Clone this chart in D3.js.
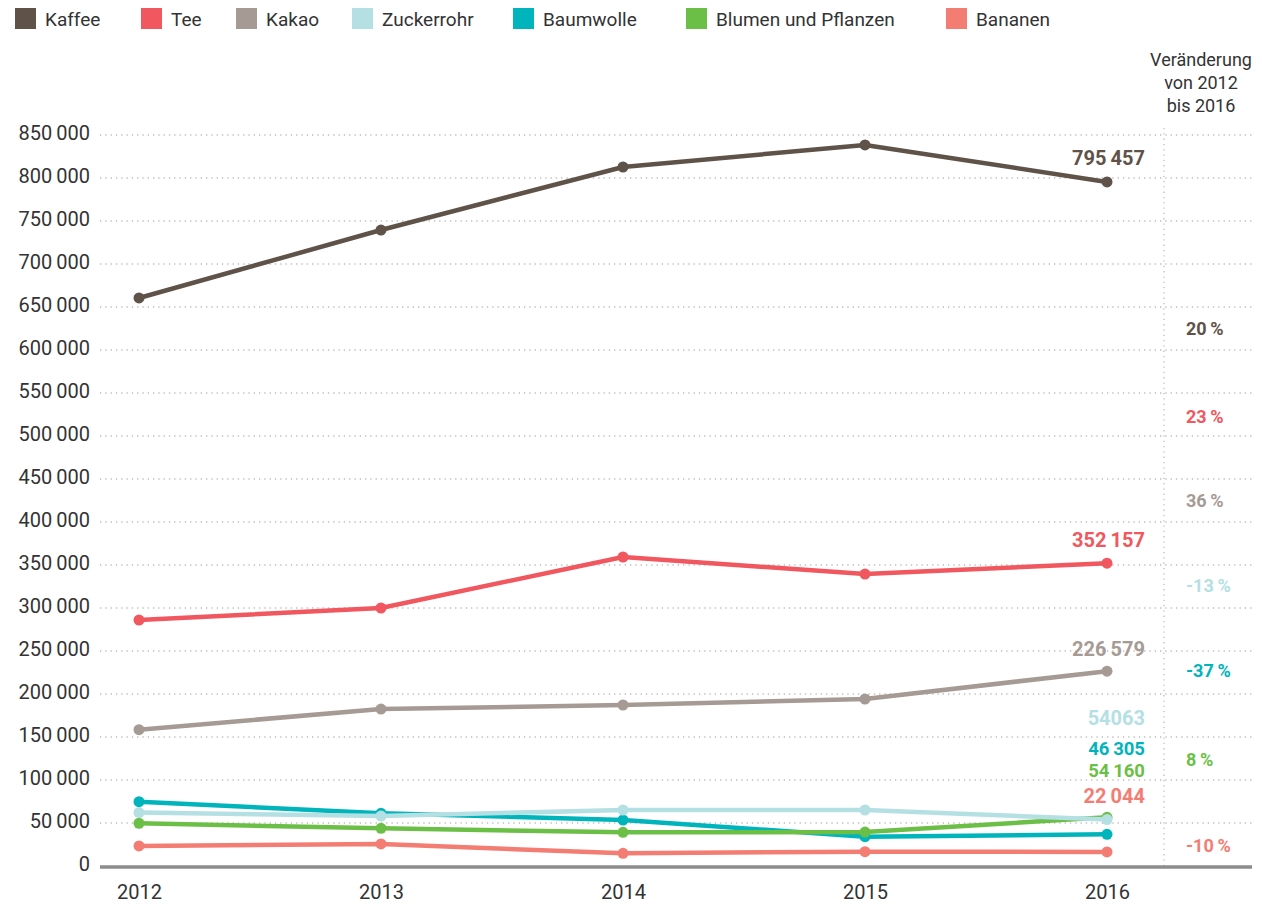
<!DOCTYPE html>
<html><head><meta charset="utf-8">
<script src="https://cdn.jsdelivr.net/npm/d3@7"></script>
<style>body{margin:0;background:#fff;font-family:Roboto,"Open Sans",sans-serif;}</style>
</head><body>
<svg id="c" width="1262" height="911"></svg>
<script>
const years = [2012, 2013, 2014, 2015, 2016];
const seriesNames = ["Kaffee","Tee","Kakao","Zuckerrohr","Baumwolle","Blumen und Pflanzen","Bananen"];
const colors = ["#5f5249","#f0575e","#a69a94","#b4e0e3","#00b4bc","#6cbf46","#f47d73"];
const kaffee = [660500, 739500, 812800, 838400, 795457];
const tee = [286000, 300000, 359300, 339500, 352157];
const kakao = [158500, 182500, 187200, 194200, 226579];
const zuckerrohr = [62100, 58100, 65100, 65100, 54063];
const baumwolle = [74800, 61300, 53500, 34100, 36900];
const blumen = [49700, 43800, 39200, 39500, 56600];
const bananen = [23300, 25600, 14700, 16700, 16300];
const endLabels = ["795 457","352 157","226 579","54063","46 305","54 160","22 044"];
const changeLabels = ["20 %","23 %","36 %","-13 %","-37 %","8 %","-10 %"];
const yTicks = d3.range(0, 850001, 50000);
const values = [kaffee, tee, kakao, zuckerrohr, baumwolle, blumen, bananen];
const drawOrder = [0,1,2,4,5,3,6];

const svg = d3.select("#c");
const x = d3.scalePoint().domain(years).range([139, 1107]);
const y = d3.scaleLinear().domain([0, 850000]).range([866, 135]);
const fmt = v => d3.format(",")(v).replace(/,/g, "\u2009");

// gridlines
svg.append("g").selectAll("line").data(yTicks.filter(d=>d>0)).join("line")
  .attr("x1", 100).attr("x2", 1252).attr("y1", d=>y(d)).attr("y2", d=>y(d))
  .attr("stroke", "#bdbdbd").attr("stroke-width", 1.3).attr("stroke-dasharray", "1.3,4");
// vertical divider
svg.append("line").attr("x1",1164).attr("x2",1164).attr("y1",128).attr("y2",866)
  .attr("stroke","#bdbdbd").attr("stroke-width",1.3).attr("stroke-dasharray","1.3,4");

// y axis labels
const yAxis = d3.axisLeft(y).tickValues(yTicks).tickSize(0).tickPadding(0).tickFormat(fmt);
const ga = svg.append("g").attr("transform","translate(90,0)").call(yAxis);
ga.select(".domain").remove();
ga.selectAll("text").attr("font-size",20).attr("fill","#333").attr("font-family","Roboto,sans-serif").attr("dy","0.2em");

// x axis
const xAxis = d3.axisBottom(x).tickSize(0).tickPadding(0);
const gx = svg.append("g").attr("transform","translate(0,885)").call(xAxis);
gx.select(".domain").remove();
gx.selectAll("text").attr("font-size",20).attr("fill","#333").attr("font-family","Roboto,sans-serif").attr("dy","0.7em");
svg.append("line").attr("x1",100).attr("x2",1252).attr("y1",y(0)+1).attr("y2",y(0)+1)
  .attr("stroke","#8c8c8c").attr("stroke-width",3.5);

// lines
const line = d3.line().x((d,i)=>x(years[i])).y(d=>y(d));
drawOrder.forEach(k=>{
  svg.append("path").datum(values[k]).attr("d", line).attr("fill","none")
    .attr("stroke", colors[k]).attr("stroke-width", 4.5).attr("stroke-linejoin","round");
  svg.append("g").selectAll("circle").data(values[k]).join("circle")
    .attr("cx",(d,i)=>x(years[i])).attr("cy",d=>y(d)).attr("r",5.5).attr("fill",colors[k]);
});

// end labels
const endLabelY = [158, 540, 649, 718, 749, 771, 796];
svg.append("g").selectAll("text").data(endLabels).join("text")
  .attr("x", 1145).attr("y",(d,i)=>endLabelY[i]).attr("dy","0.35em").attr("text-anchor","end")
  .attr("font-size",(d,i)=>(i===4||i===5)?18.5:20).attr("font-weight","bold").attr("fill",(d,i)=>colors[i]).text(d=>d.replace(" ","\u2009"));

// change labels
const changeY = [329, 417, 501, 586, 671, 760, 846];
svg.append("g").selectAll("text").data(changeLabels).join("text")
  .attr("x", 1186).attr("y",(d,i)=>changeY[i]).attr("dy","0.35em").attr("text-anchor","start")
  .attr("font-size",18).attr("font-weight","bold").attr("fill",(d,i)=>colors[i]).text(d=>d.replace(" ","\u2009"));

// header
const hdr = ["Veränderung","von 2012","bis 2016"];
svg.append("g").selectAll("text").data(hdr).join("text")
  .attr("x",1201).attr("y",(d,i)=>60+i*23).attr("dy","0.35em").attr("text-anchor","middle")
  .attr("font-size",18).attr("fill","#333").text(d=>d);

// legend
const legX = [15, 141, 236, 352, 513, 686, 946];
const lg = svg.append("g").selectAll("g").data(seriesNames).join("g")
  .attr("transform",(d,i)=>`translate(${legX[i]},8)`);
lg.append("rect").attr("width",21).attr("height",21).attr("fill",(d,i)=>colors[i]);
lg.append("text").attr("x",30).attr("y",11).attr("dy","0.35em").attr("font-size",19).attr("fill","#333").text(d=>d);
</script>
</body></html>
